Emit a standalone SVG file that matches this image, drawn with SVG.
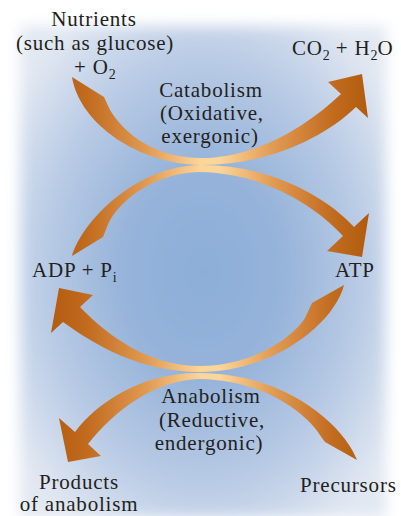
<svg xmlns="http://www.w3.org/2000/svg" width="401" height="516" viewBox="0 0 401 516">
  <style>
    .t { font-family: "Liberation Serif", "Times New Roman", serif; font-size: 21px; letter-spacing: 0.8px; fill: #231f20; }
    .c { text-anchor: middle; }
    .sub { font-size: 14px; letter-spacing: 0; }
    .arrow { fill: url(#band); }
  </style>
  <defs>
    <radialGradient id="bg" cx="0.5" cy="0.5" r="0.62">
      <stop offset="0" stop-color="#8caed8"/>
      <stop offset="0.35" stop-color="#96b3da"/>
      <stop offset="0.7" stop-color="#b9cbe5"/>
      <stop offset="1" stop-color="#e2e8f2"/>
    </radialGradient>
    <filter id="blur" x="-0.2" y="-0.2" width="1.4" height="1.4">
      <feGaussianBlur stdDeviation="7"/>
    </filter>
    <linearGradient id="band" gradientUnits="userSpaceOnUse" x1="50" y1="0" x2="370" y2="0">
      <stop offset="0" stop-color="#b35a0e"/>
      <stop offset="0.12" stop-color="#c26c20"/>
      <stop offset="0.3" stop-color="#e09a52"/>
      <stop offset="0.47" stop-color="#fcd598"/>
      <stop offset="0.53" stop-color="#fcd598"/>
      <stop offset="0.7" stop-color="#e09a52"/>
      <stop offset="0.88" stop-color="#c26c20"/>
      <stop offset="1" stop-color="#b05a0c"/>
    </linearGradient>
  </defs>

  <rect width="401" height="516" fill="#ffffff"/>
  <rect x="20" y="26" width="366" height="492" fill="url(#bg)" filter="url(#blur)"/>

  <g id="connectors">
    <path id="catabolism-arrow" class="arrow" d="M72,77 C80,125 140,164 200,165 C262,166 322,140 356,107 L368,118 L362,74 L328,82 L341,94 C305,128 255,158 200,158 C150,157 122,130 110,110 L104,97 Z"/>
    <path id="atp-arrow" class="arrow" d="M72,256 C82,222 135,166 200,165 C262,164 322,192 354,227 L369,213 L362,257 L327,251 L343,236 C315,205 262,173 200,172 C150,173 115,205 107,227 L103,237 Z"/>
    <path id="adp-arrow" class="arrow" d="M344,285 C335,322 275,372 200,372 C140,372 95,345 63,322 L51,333 L59,288 L93,295 L80,307 C110,338 150,366 200,366 C255,366 295,335 305,318 L312,303 Z"/>
    <path id="anabolism-arrow" class="arrow" d="M357,460 C345,428 290,374 200,373 C140,372 95,405 75,432 L59,418 L68,462 L101,456 L88,444 C115,410 155,380 200,379 C260,380 305,410 322,438 L325,442 Z"/>
  </g>

  <g id="nutrients">
    <text class="t c" x="94" y="26">Nutrients</text>
    <text class="t c" x="95" y="50">(such as glucose)</text>
    <text class="t" x="74" y="74">+ O<tspan class="sub" dy="5">2</tspan></text>
  </g>
  <g id="co2-h2o">
    <text class="t" x="292" y="55">CO<tspan class="sub" dy="5">2</tspan><tspan dy="-5"> + H</tspan><tspan class="sub" dy="5">2</tspan><tspan dy="-5">O</tspan></text>
  </g>
  <g id="catabolism">
    <text class="t c" x="211" y="97">Catabolism</text>
    <text class="t c" x="212" y="120">(Oxidative,</text>
    <text class="t c" x="210" y="143">exergonic)</text>
  </g>
  <g id="adp">
    <text class="t" x="32" y="277">ADP + P<tspan class="sub" dy="5">i</tspan></text>
  </g>
  <g id="atp">
    <text class="t" x="335" y="277">ATP</text>
  </g>
  <g id="anabolism">
    <text class="t c" x="211" y="403">Anabolism</text>
    <text class="t c" x="212" y="427">(Reductive,</text>
    <text class="t c" x="209" y="450">endergonic)</text>
  </g>
  <g id="products">
    <text class="t c" x="79" y="489">Products</text>
    <text class="t c" x="79" y="511">of anabolism</text>
  </g>
  <g id="precursors">
    <text class="t" x="300" y="492">Precursors</text>
  </g>
</svg>
